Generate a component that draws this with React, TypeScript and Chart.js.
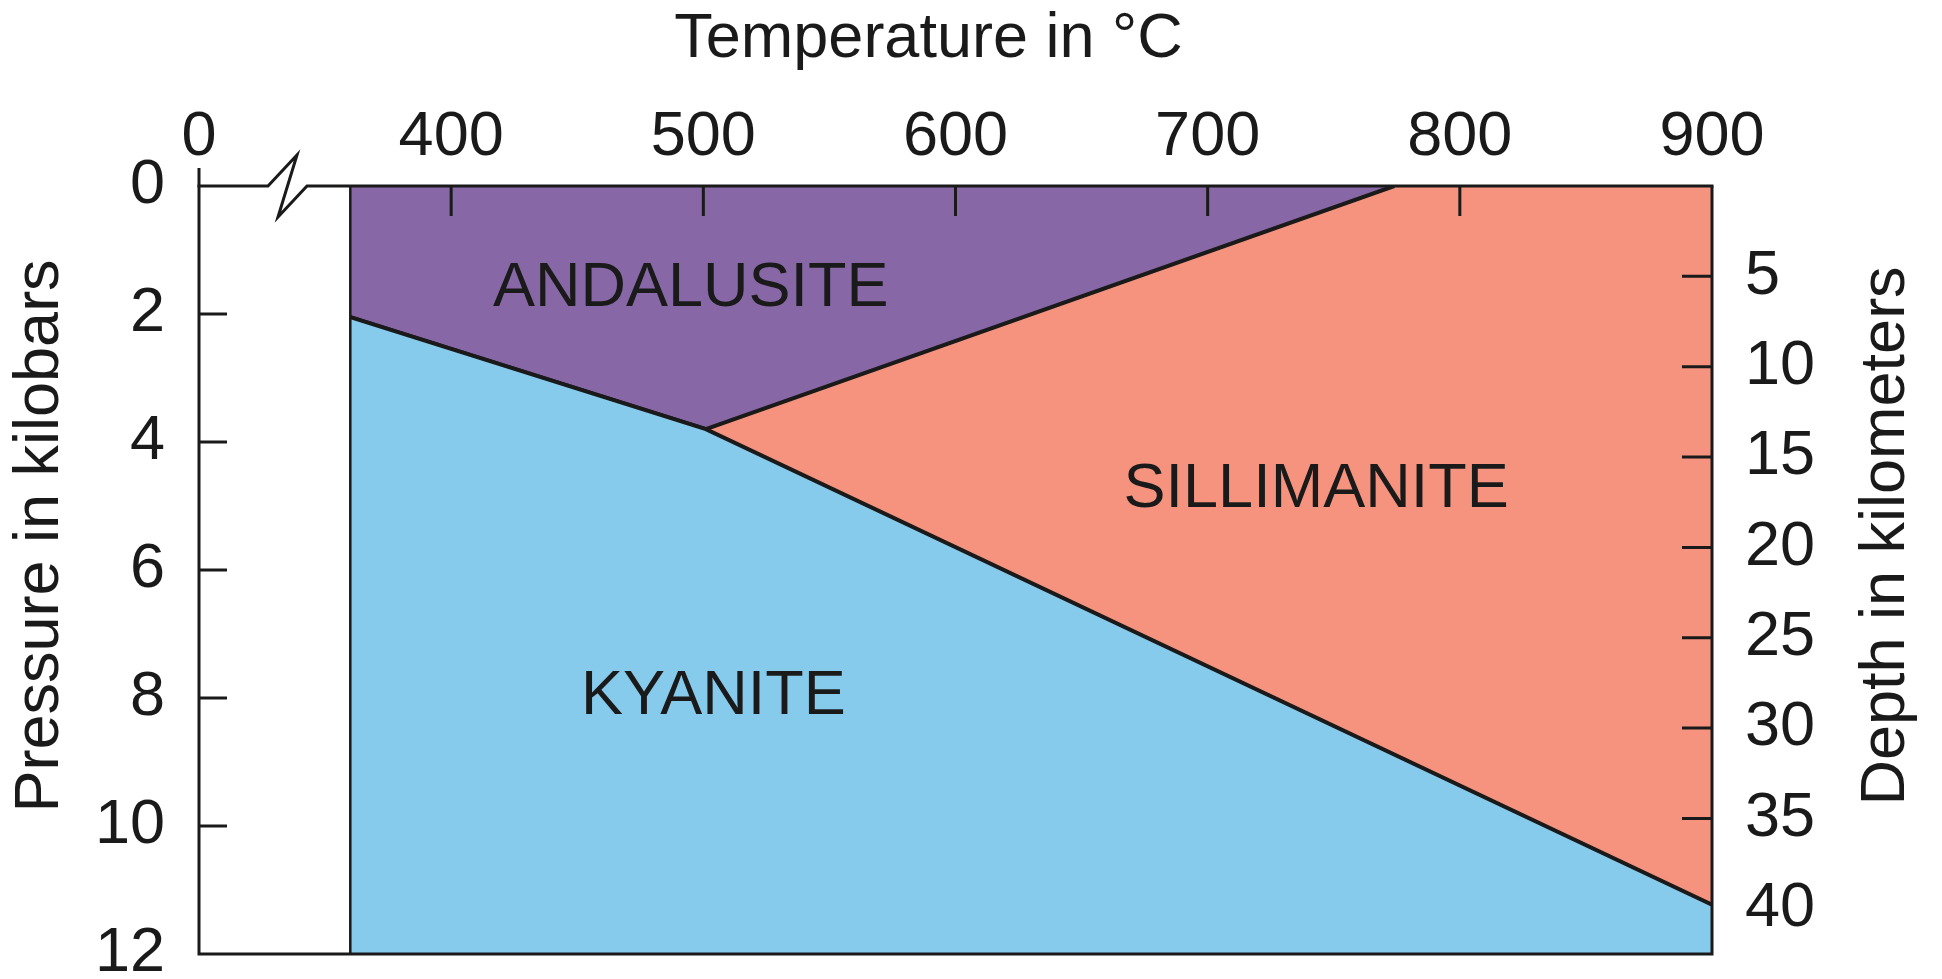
import { useEffect, useRef } from "react";
import { Chart, registerables } from "chart.js";

Chart.register(...registerables);

// ---------- data ----------
// Temperature axis is broken: the first tick (drawn at 300 on the scale) is labelled "0".
const temperatureTicks = [300, 400, 500, 600, 700, 800, 900];
const temperatureTickLabels = ["0", "400", "500", "600", "700", "800", "900"];
const pressureTicks = [0, 2, 4, 6, 8, 10, 12];
const pressureTickLabels = ["0", "2", "4", "6", "8", "10", "12"];
const depthTicks = [5, 10, 15, 20, 25, 30, 35, 40];
const depthTickLabels = ["5", "10", "15", "20", "25", "30", "35", "40"];
const depthTickMarks = [5, 10, 15, 20, 25, 30, 35];

// Phase boundaries (temperature °C, pressure kbar)
const kyaniteAndalusiteT = [360, 501];
const kyaniteAndalusiteP = [2.05, 3.8];
const andalusiteSillimaniteT = [501, 774];
const andalusiteSillimaniteP = [3.8, 0];
const kyaniteSillimaniteT = [501, 900];
const kyaniteSillimaniteP = [3.8, 11.23];
const fieldEdgeT = [360, 360];
const fieldEdgeP = [0, 12];
const fieldTopT = [360, 900];
const fieldTopP = [0, 0];

const phaseNames = ["ANDALUSITE", "SILLIMANITE", "KYANITE"];
const phaseLabelT = [495, 743, 504];
const phaseLabelP = [1.6, 4.75, 7.98];

const temperatureRange = [300, 900];
const pressureRange = [0, 12];
const depthRange = [0, 42.5];

// ---------- style ----------
const INK = "#1a1a1a";
const PURPLE = "#8867A7";
const SALMON = "#F5937F";
const BLUE = "#86CAEC";
const FONT = "'Liberation Sans', Arial, Helvetica, sans-serif";

const pts = (t: number[], p: number[]) => t.map((v, i) => ({ x: v, y: p[i] }));

const noPad = (s: any) => {
  s.paddingTop = 0;
  s.paddingBottom = 0;
  s.paddingLeft = 0;
  s.paddingRight = 0;
};

const decorPlugin = {
  id: "decor",
  afterDatasetsDraw(chart: any) {
    const { ctx, chartArea, scales } = chart;
    const { left, right, top, bottom } = chartArea;
    const xs = scales.x;
    const ys = scales.y;
    const ds = scales.depth;
    ctx.save();
    ctx.strokeStyle = INK;
    ctx.lineWidth = 3;
    ctx.lineJoin = "miter";
    ctx.lineCap = "butt";

    // frame: right, bottom, left (left extends above as the "0" tick)
    ctx.beginPath();
    ctx.moveTo(right, top);
    ctx.lineTo(right, bottom);
    ctx.lineTo(left, bottom);
    ctx.lineTo(left, top - 18);
    ctx.stroke();

    // top axis with break symbol
    ctx.beginPath();
    ctx.moveTo(left - 1.5, top);
    ctx.lineTo(left + 69, top);
    ctx.lineTo(left + 98, top - 31);
    ctx.lineTo(left + 79, top + 31);
    ctx.lineTo(left + 108, top);
    ctx.lineTo(right + 1.5, top);
    ctx.stroke();

    // inward tick marks
    ctx.beginPath();
    temperatureTicks.forEach((v) => {
      if (v > temperatureRange[0] && v < temperatureRange[1]) {
        const px = xs.getPixelForValue(v);
        ctx.moveTo(px, top);
        ctx.lineTo(px, top + 30);
      }
    });
    pressureTicks.forEach((v) => {
      if (v > pressureRange[0] && v < pressureRange[1]) {
        const py = ys.getPixelForValue(v);
        ctx.moveTo(left, py);
        ctx.lineTo(left + 28, py);
      }
    });
    depthTickMarks.forEach((v) => {
      const py = ds.getPixelForValue(v);
      ctx.moveTo(right, py);
      ctx.lineTo(right - 30, py);
    });
    ctx.stroke();
    ctx.restore();
  },
  afterDraw(chart: any) {
    const { ctx, chartArea, scales } = chart;
    const { left, right, top, bottom } = chartArea;
    ctx.save();
    ctx.fillStyle = INK;
    ctx.textBaseline = "middle";
    ctx.textAlign = "center";
    ctx.font = `63px ${FONT}`;

    // axis titles
    ctx.fillText("Temperature in °C", (left + right) / 2 - 27, 40);
    const midY = (top + bottom) / 2 - 34;
    ctx.save();
    ctx.translate(41, midY);
    ctx.rotate(-Math.PI / 2);
    ctx.fillText("Pressure in kilobars", 0, 0);
    ctx.restore();
    ctx.save();
    ctx.translate(1887, midY);
    ctx.rotate(-Math.PI / 2);
    ctx.fillText("Depth in kilometers", 0, 0);
    ctx.restore();

    // phase field labels
    phaseNames.forEach((name, i) => {
      ctx.fillText(
        name,
        scales.x.getPixelForValue(phaseLabelT[i]),
        scales.y.getPixelForValue(phaseLabelP[i])
      );
    });
    ctx.restore();
  },
};

export default function App() {
  const ref = useRef<HTMLCanvasElement | null>(null);

  useEffect(() => {
    document.body.style.margin = "0";
    const canvas = ref.current;
    if (!canvas) return;
    const tickFont = { family: FONT, size: 63 };
    const chart = new Chart(canvas, {
      type: "line",
      data: {
        datasets: [
          {
            label: "Kyanite",
            data: [...pts(kyaniteAndalusiteT, kyaniteAndalusiteP), ...pts(kyaniteSillimaniteT, kyaniteSillimaniteP).slice(1)],
            borderColor: INK,
            borderWidth: 4,
            backgroundColor: BLUE,
            fill: { value: pressureRange[1] },
            pointRadius: 0,
            tension: 0,
            order: 1,
          },
          {
            label: "Andalusite",
            data: [...pts(kyaniteAndalusiteT, kyaniteAndalusiteP), ...pts(andalusiteSillimaniteT, andalusiteSillimaniteP).slice(1)],
            borderColor: INK,
            borderWidth: 4,
            backgroundColor: PURPLE,
            fill: { value: pressureRange[0] },
            pointRadius: 0,
            tension: 0,
            order: 2,
          },
          {
            label: "Sillimanite",
            data: pts(fieldTopT, fieldTopP),
            borderWidth: 0,
            borderColor: "rgba(0,0,0,0)",
            backgroundColor: SALMON,
            fill: { value: pressureRange[1] },
            pointRadius: 0,
            tension: 0,
            order: 3,
          },
          {
            label: "Field edge",
            data: pts(fieldEdgeT, fieldEdgeP),
            borderColor: INK,
            borderWidth: 2.5,
            fill: false,
            pointRadius: 0,
            tension: 0,
            order: 0,
          },
        ],
      },
      options: {
        responsive: false,
        animation: false,
        events: [],
        layout: { padding: { left: 0, right: 0, top: 0, bottom: 25 } },
        plugins: {
          legend: { display: false },
          tooltip: { enabled: false },
          title: { display: false },
        },
        scales: {
          x: {
            type: "linear",
            position: "top",
            min: temperatureRange[0],
            max: temperatureRange[1],
            grid: { display: false, drawTicks: false },
            border: { display: false },
            afterBuildTicks: (s: any) => {
              s.ticks = temperatureTicks.map((v) => ({ value: v }));
            },
            afterFit: (s: any) => {
              s.height = 186;
              noPad(s);
            },
            ticks: {
              font: tickFont,
              color: INK,
              padding: 11,
              maxRotation: 0,
              autoSkip: false,
              callback: (_v: any, i: number) => temperatureTickLabels[i],
            },
          },
          y: {
            type: "linear",
            position: "left",
            min: pressureRange[0],
            max: pressureRange[1],
            reverse: true,
            grid: { display: false, drawTicks: false },
            border: { display: false },
            afterBuildTicks: (s: any) => {
              s.ticks = pressureTicks.map((v) => ({ value: v }));
            },
            afterFit: (s: any) => {
              s.width = 199;
              noPad(s);
            },
            ticks: {
              font: tickFont,
              color: INK,
              padding: 34,
              autoSkip: false,
              callback: (_v: any, i: number) => pressureTickLabels[i],
            },
          },
          depth: {
            type: "linear",
            position: "right",
            min: depthRange[0],
            max: depthRange[1],
            reverse: true,
            grid: { display: false, drawTicks: false },
            border: { display: false },
            afterBuildTicks: (s: any) => {
              s.ticks = depthTicks.map((v) => ({ value: v }));
            },
            afterFit: (s: any) => {
              s.width = 230;
              noPad(s);
            },
            ticks: {
              font: tickFont,
              color: INK,
              padding: 33,
              autoSkip: false,
              callback: (_v: any, i: number) => depthTickLabels[i],
            },
          },
        },
      },
      plugins: [decorPlugin],
    } as any);
    return () => chart.destroy();
  }, []);

  return (
    <div style={{ position: "absolute", left: 0, top: 0, width: 1942, height: 979, background: "#fff" }}>
      <canvas ref={ref} width={1942} height={979} style={{ display: "block" }} />
    </div>
  );
}
